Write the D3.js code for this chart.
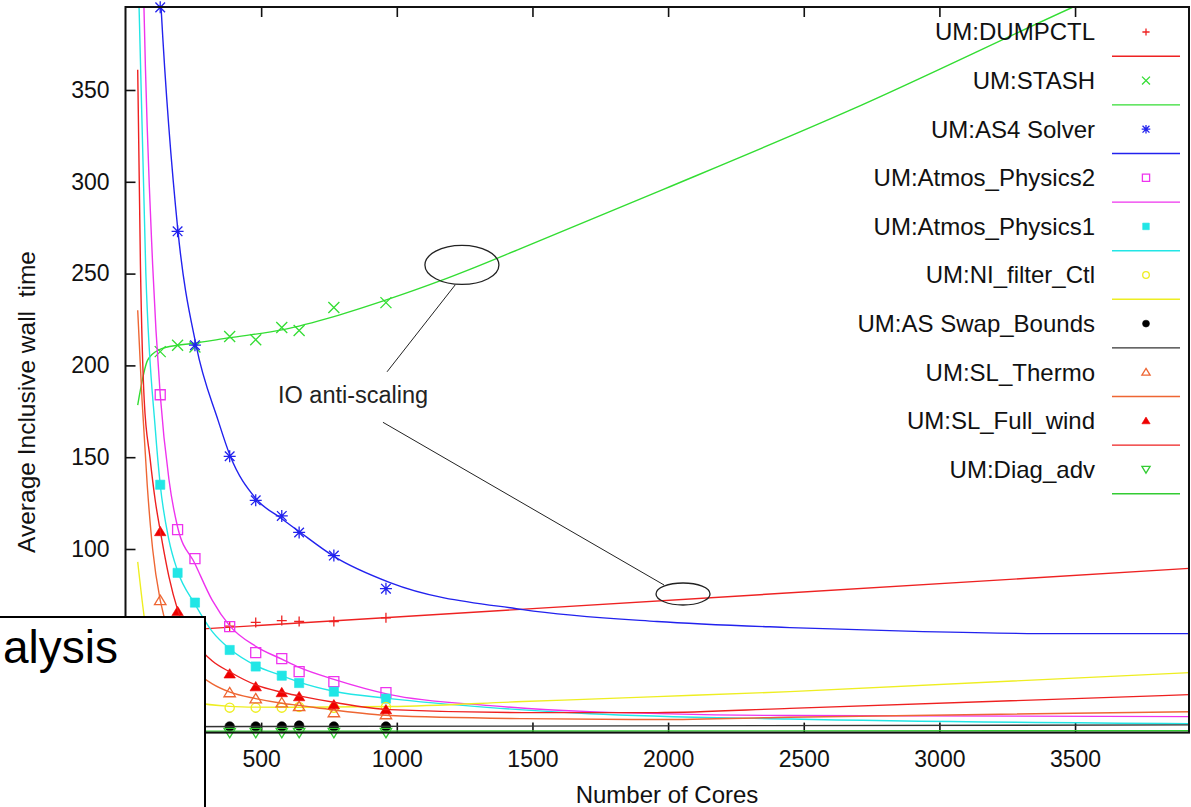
<!DOCTYPE html>
<html>
<head>
<meta charset="utf-8">
<script src="https://cdn.jsdelivr.net/npm/d3@7"></script>
<style>
body { margin: 0; background: #fff; }
svg { display: block; font-family: "Liberation Sans", Arial, sans-serif; }
</style>
</head>
<body>
<svg id="chart" width="1191" height="807"></svg>
<script>
// measured points (cores on x)
const cores = [128, 192, 256, 384, 480, 576, 640, 768, 960]

const names = ["UM:DUMPCTL", "UM:STASH", "UM:AS4 Solver", "UM:Atmos_Physics2", "UM:Atmos_Physics1",
  "UM:NI_filter_Ctl", "UM:AS Swap_Bounds", "UM:SL_Thermo", "UM:SL_Full_wind", "UM:Diag_adv"]
const colors = ["#ee2222", "#33dd33", "#2222ee", "#ee33ee", "#22e6e6",
  "#eeee22", "#000000", "#ee6633", "#ee0000", "#33cc33"]
const lineColors = ["#ee2222", "#33dd33", "#2222ee", "#ee33ee", "#22e6e6",
  "#eeee22", "#333333", "#ee6633", "#ee2020", "#33cc33"]
const shapes = ["plus", "cross", "star", "square", "squareFill",
  "circle", "circleFill", "triangle", "triangleFill", "triangleDown"]

const dumpctl  = [55, 56, 56.5, 58, 60, 61, 60.5, 60.5, 62.5]
const stash    = [207.5, 211, 210, 215.7, 214, 220.6, 219, 231.5, 234.2]
const as4      = [395, 273, 211, 150.5, 126.5, 118, 109, 96.4, 78.4]
const phys2    = [184, 110.5, 94.8, 57.7, 43.6, 40.3, 33.2, 27.8, 21.8]
const phys1    = [135, 87, 70.8, 45, 36, 31, 27, 22.3, 18.5]
const nifilter = [30, 20, 16, 13.6, 13.6, 13.6, 14, 13.5, 14]
const swap     = [3.3, 3.3, 3.3, 3.3, 3.3, 3.3, 3.8, 3.3, 3.3]
const thermo   = [72, 45, 33, 21.8, 18.5, 16.3, 14.2, 10.9, 9.8]
const fullwind = [109.5, 66, 48, 32, 25, 21.8, 19.6, 15.2, 12.5]
const diag     = [0, 0, 0, 0, 0, 0, 0, 0, 0]

// fitted curves as [cores, time]
const fitDumpctl = [[45, 54.3], [3924, 89.5]]
const fitStash = [[45, 178.4], [82, 203], [123, 208.5], [193, 211], [238, 211.8], [381, 215], [581, 219.5],
  [768, 226.6], [964, 235.8], [1159, 246], [1281, 253], [1454, 263.5], [1985, 296], [2671, 339], [3493, 395.2], [3700, 409]]
const fitAs4 = [[110, 457], [131, 395.2], [193, 273.7], [260, 211], [341, 170.2], [385, 151], [480, 127.5],
  [576, 116.5], [640, 109.5], [768, 96], [975, 81.7], [1465, 67], [1959, 60.5], [2449, 57.2], [2940, 55], [3434, 53.9], [3924, 53.9]]
const fitPhys2 = [[60, 455], [68, 395.2], [100, 255], [128, 184], [160, 138], [192, 112], [256, 92], [320, 72],
  [385, 58], [480, 47], [576, 40], [640, 35.5], [768, 29], [975, 20.7], [1344, 14.7], [1712, 11.4], [2449, 9.3], [3924, 8.7]]
const fitPhys1 = [[45, 430], [50, 395.2], [75, 250], [110, 165], [128, 135], [160, 105], [192, 88], [256, 70], [320, 55],
  [385, 45.5], [480, 36.5], [576, 31], [640, 27.5], [768, 22.5], [975, 18.5], [1344, 13.6], [1712, 10.3], [2449, 7.4], [3924, 4.9]]
const fitNifilter = [[45, 93], [68, 64], [90, 42], [128, 29], [192, 20], [256, 16.5], [385, 14.3], [480, 13.9],
  [640, 13.8], [975, 14.2], [1465, 16.9], [1959, 19.6], [2449, 22.3], [3924, 32.7]]
const fitSwap = [[45, 3.2], [3924, 4.2]]
const fitThermo = [[45, 230], [61, 181], [80, 135], [100, 100], [128, 72], [160, 55], [192, 45], [256, 33.5], [320, 26.5],
  [385, 22], [480, 18.5], [576, 16], [640, 14.8], [768, 12.3], [975, 9.3], [1465, 7.6], [1959, 7.1], [2449, 8.4], [3924, 11.4]]
const fitFullwind = [[45, 361], [55, 255], [69, 181], [90, 150], [110, 126], [128, 110], [160, 85], [192, 67], [256, 49],
  [320, 39], [385, 33], [480, 26], [576, 22], [640, 20], [768, 16.5], [975, 12.5], [1465, 10.9], [1959, 10.9], [2449, 13.2], [3924, 20.7]]
const fitDiag = [[45, 0.8], [3924, 1]]

const values = [dumpctl, stash, as4, phys2, phys1, nifilter, swap, thermo, fullwind, diag]
const fits = [fitDumpctl, fitStash, fitAs4, fitPhys2, fitPhys1, fitNifilter, fitSwap, fitThermo, fitFullwind, fitDiag]

// ticks left of 500 cores / below 100 sit under the pasted box, so they are not listed
const xTicks = [500, 1000, 1500, 2000, 2500, 3000, 3500]
const yTicks = [100, 150, 200, 250, 300, 350]

const svg = d3.select("#chart")

const x = d3.scaleLinear().domain([0, 3920]).range([125.5, 1189])
const y = d3.scaleLinear().domain([0, 395.2]).range([732.6, 7])

svg.append("clipPath").attr("id", "plotclip")
  .append("rect")
    .attr("x", x.range()[0]).attr("y", y.range()[1])
    .attr("width", x.range()[1] - x.range()[0])
    .attr("height", y.range()[0] - y.range()[1])

// axes (gnuplot style: ticks inside, mirrored at top)
const gx = svg.append("g")
    .attr("transform", `translate(0,${y.range()[0]})`)
    .call(d3.axisBottom(x).tickValues(xTicks).tickFormat(d3.format("d"))
      .tickSizeInner(-10).tickSizeOuter(0).tickPadding(18))
const gxTop = svg.append("g")
    .attr("transform", `translate(0,${y.range()[1]})`)
    .call(d3.axisTop(x).tickValues(xTicks).tickSizeInner(-10).tickSizeOuter(0).tickFormat(""))
const gy = svg.append("g")
    .attr("transform", `translate(${x.range()[0]},0)`)
    .call(d3.axisLeft(y).tickValues(yTicks).tickFormat(d3.format("d"))
      .tickSizeInner(-10).tickSizeOuter(0).tickPadding(16))

;[gx, gxTop, gy].forEach(g => {
  g.select(".domain").remove()
  g.attr("font-family", null).attr("font-size", 23)
  g.selectAll("line").attr("stroke", "#111").attr("stroke-width", 1.6)
  g.selectAll("text").attr("fill", "#111")
})

// marker shapes
function markerPath(shape, s) {
  switch (shape) {
    case "plus": return `M${-s},0H${s}M0,${-s}V${s}`
    case "cross": return `M${-s},${-s}L${s},${s}M${-s},${s}L${s},${-s}`
    case "star": return `M${-s},0H${s}M0,${-s}V${s}M${-s*0.8},${-s*0.8}L${s*0.8},${s*0.8}M${-s*0.8},${s*0.8}L${s*0.8},${-s*0.8}`
    case "square": case "squareFill": return `M${-s},${-s}H${s}V${s}H${-s}Z`
    case "circle": case "circleFill": return `M${-s},0A${s},${s} 0 1,0 ${s},0A${s},${s} 0 1,0 ${-s},0Z`
    case "triangle": case "triangleFill": return `M0,${-s}L${s*1.1},${s*0.8}H${-s*1.1}Z`
    case "triangleDown": return `M0,${s}L${s*1.1},${-s*0.8}H${-s*1.1}Z`
  }
}
const markerSize = {plus: 5, cross: 5.5, star: 6, square: 5, squareFill: 4.6, circle: 4.6,
  circleFill: 4.8, triangle: 5.2, triangleFill: 5.2, triangleDown: 5.2}
const isFilled = s => s.endsWith("Fill")

function drawMarker(g, shape, color, scale) {
  const fill = isFilled(shape)
  g.append("path")
    .attr("d", markerPath(shape, markerSize[shape] * scale))
    .attr("fill", fill ? color : "none")
    .attr("stroke", color)
    .attr("stroke-width", fill ? 0.6 : 1.3)
}

const line = d3.line()
    .x(d => x(d[0]))
    .y(d => y(d[1]))
    .curve(d3.curveMonotoneX)

const plot = svg.append("g")

names.forEach((name, i) => {
  const pts = plot.append("g")
  cores.forEach((c, j) => {
    const g = pts.append("g").attr("transform", `translate(${x(c)},${y(values[i][j])})`)
    drawMarker(g, shapes[i], colors[i], 1)
  })
  plot.append("path")
      .attr("clip-path", "url(#plotclip)")
      .attr("d", line(fits[i]))
      .attr("fill", "none")
      .attr("stroke", lineColors[i])
      .attr("stroke-width", 1.4)
})

// frame
svg.append("rect")
    .attr("x", x.range()[0]).attr("y", y.range()[1])
    .attr("width", x.range()[1] - x.range()[0])
    .attr("height", y.range()[0] - y.range()[1])
    .attr("fill", "none")
    .attr("stroke", "#111")
    .attr("stroke-width", 2)

// axis titles
svg.append("text")
    .attr("x", 667).attr("y", 803)
    .attr("text-anchor", "middle")
    .attr("font-size", 24)
    .attr("fill", "#111")
    .text("Number of Cores")
svg.append("text")
    .attr("transform", "translate(35,402) rotate(-90)")
    .attr("text-anchor", "middle")
    .attr("font-size", 24.5)
    .attr("fill", "#111")
    .style("white-space", "pre")
    .text("Average Inclusive wall  time")

// key
const keyRow = k => 32 + 24.3 * k
const key = svg.append("g")
names.forEach((name, i) => {
  const ty = keyRow(2 * i)
  key.append("text")
      .attr("x", 1095).attr("y", ty)
      .attr("dy", "0.35em")
      .attr("text-anchor", "end")
      .attr("font-size", 24)
      .attr("fill", "#111")
      .text(name)
  const g = key.append("g").attr("transform", `translate(1146,${ty})`)
  drawMarker(g, shapes[i], colors[i], 0.72)
  key.append("line")
      .attr("x1", 1112).attr("x2", 1180)
      .attr("y1", keyRow(2 * i + 1)).attr("y2", keyRow(2 * i + 1))
      .attr("stroke", lineColors[i])
      .attr("stroke-width", 1.4)
})

// "IO anti-scaling" annotation
const note = svg.append("g").attr("stroke", "#222").attr("fill", "none")
note.append("ellipse")
    .attr("cx", x(1240)).attr("cy", y(254.7))
    .attr("rx", 37).attr("ry", 19.5)
    .attr("stroke-width", 1.3)
note.append("ellipse")
    .attr("cx", x(2055)).attr("cy", y(75.5))
    .attr("rx", 27).attr("ry", 11)
    .attr("stroke-width", 1.3)
note.append("line")
    .attr("x1", x(1215)).attr("y1", y(243.8))
    .attr("x2", x(964)).attr("y2", y(196.5))
    .attr("stroke-width", 1)
note.append("line")
    .attr("x1", x(949)).attr("y1", y(169))
    .attr("x2", x(1985)).attr("y2", y(80.4))
    .attr("stroke-width", 1)
svg.append("text")
    .attr("x", x(562)).attr("y", y(179.5))
    .attr("font-size", 23.5)
    .attr("fill", "#222")
    .text("IO anti-scaling")

// overlapping slide box in the lower left
svg.append("rect")
    .attr("x", -3).attr("y", 617)
    .attr("width", 208).attr("height", 200)
    .attr("fill", "#fff")
    .attr("stroke", "#000")
    .attr("stroke-width", 2)
svg.append("text")
    .attr("x", 118).attr("y", 663)
    .attr("text-anchor", "end")
    .attr("font-size", 46)
    .attr("fill", "#000")
    .text("alysis")
</script>
</body>
</html>
